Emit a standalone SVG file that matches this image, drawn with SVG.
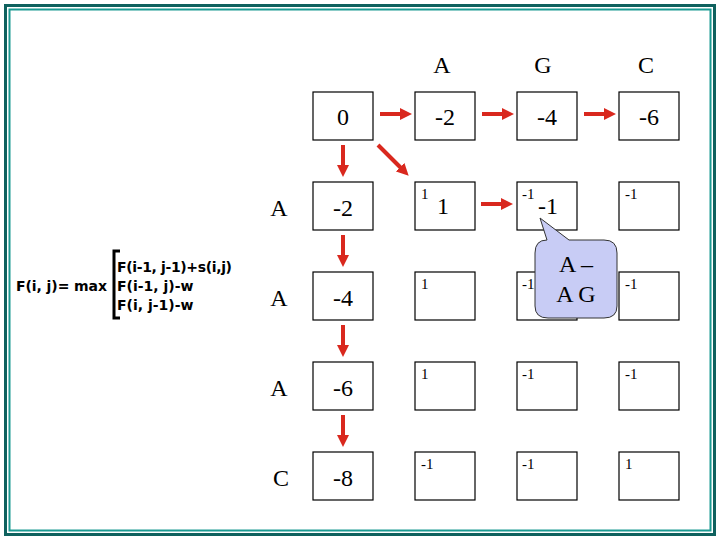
<svg xmlns="http://www.w3.org/2000/svg" width="720" height="540" viewBox="0 0 720 540">
<style>
.box{fill:#fff;stroke:#000;stroke-width:1.2}
.big{font-family:"Liberation Serif",serif;font-size:24px;text-anchor:middle}
.sm{font-family:"Liberation Serif",serif;font-size:15px}
.f{font-family:"DejaVu Sans",sans-serif;font-size:14px;font-weight:bold}
.arr{stroke:#d9281e;stroke-width:4;marker-end:url(#ah)}
</style>
<defs><marker id="ah" markerWidth="3" markerHeight="3" refX="1" refY="1.5" orient="auto"><path d="M0,0L3,1.5L0,3z" fill="#d9281e"/></marker></defs>
<rect width="720" height="540" fill="#fff"/>
<rect x="5.5" y="5.5" width="709" height="529" fill="none" stroke="#0e615e" stroke-width="3"/>
<rect x="9.5" y="9.5" width="701" height="521" fill="none" stroke="#1b9a92" stroke-width="2"/>
<g id="headers" class="big"><text x="442" y="73">A</text><text x="543" y="73">G</text><text x="646" y="73">C</text>
<text x="279" y="216">A</text><text x="279" y="306">A</text><text x="279" y="396">A</text><text x="281" y="486">C</text></g>
<g id="formula" class="f"><text x="16" y="291" textLength="91">F(i, j)=  max</text><text x="117" y="272" textLength="115">F(i-1, j-1)+s(i,j)</text><text x="117" y="291">F(i-1, j)-w</text><text x="117" y="310">F(i, j-1)-w</text>
<path d="M120,251H114V318H120" fill="none" stroke="#000" stroke-width="3"/></g>
<g id="col0"><rect class="box" x="313" y="92" width="60" height="48"/><text class="big" x="343" y="125">0</text>
<rect class="box" x="313" y="182" width="60" height="48"/><text class="big" x="343" y="216">-2</text>
<rect class="box" x="313" y="272" width="60" height="48"/><text class="big" x="343" y="306">-4</text>
<rect class="box" x="313" y="362" width="60" height="48"/><text class="big" x="343" y="396">-6</text>
<rect class="box" x="313" y="452" width="60" height="48"/><text class="big" x="343" y="486">-8</text></g>
<g id="row0"><rect class="box" x="415" y="92" width="60" height="48"/><text class="big" x="445" y="125">-2</text>
<rect class="box" x="517" y="92" width="60" height="48"/><text class="big" x="547" y="125">-4</text>
<rect class="box" x="619" y="92" width="60" height="48"/><text class="big" x="649" y="125">-6</text></g>
<g id="cells" class="sm">
<rect class="box" x="415" y="182" width="60" height="48"/><text x="421" y="199">1</text><text class="big" x="443" y="214">1</text>
<rect class="box" x="517" y="182" width="60" height="48"/><text x="522" y="199">-1</text><text class="big" x="548" y="214">-1</text>
<rect class="box" x="619" y="182" width="60" height="48"/><text x="625" y="199">-1</text>
<rect class="box" x="415" y="272" width="60" height="48"/><text x="421" y="289">1</text>
<rect class="box" x="517" y="272" width="60" height="48"/><text x="522" y="289">-1</text>
<rect class="box" x="619" y="272" width="60" height="48"/><text x="625" y="289">-1</text>
<rect class="box" x="415" y="362" width="60" height="48"/><text x="421" y="379">1</text>
<rect class="box" x="517" y="362" width="60" height="48"/><text x="522" y="379">-1</text>
<rect class="box" x="619" y="362" width="60" height="48"/><text x="625" y="379">-1</text>
<rect class="box" x="415" y="452" width="60" height="48"/><text x="421" y="469">-1</text>
<rect class="box" x="517" y="452" width="60" height="48"/><text x="522" y="469">-1</text>
<rect class="box" x="619" y="452" width="60" height="48"/><text x="625" y="469">1</text></g>
<g id="connectors">
<line class="arr" x1="380" y1="114" x2="404" y2="114"/><line class="arr" x1="482" y1="114" x2="506" y2="114"/><line class="arr" x1="584" y1="114" x2="608" y2="114"/>
<line class="arr" x1="481" y1="204" x2="505" y2="204"/>
<line class="arr" x1="378" y1="145" x2="403" y2="170"/>
<line class="arr" x1="343" y1="145" x2="343" y2="169"/><line class="arr" x1="343" y1="235" x2="343" y2="259"/><line class="arr" x1="343" y1="325" x2="343" y2="349"/><line class="arr" x1="343" y1="415" x2="343" y2="439"/>
</g>
<g id="callout"><path d="M547,240L540,218L569,240H604Q617,240 617,253V306Q617,318 604,318H548Q535,318 535,306V253Q535,240 547,240Z" fill="#c8ccf5" stroke="#333" stroke-width="1"/>
<text class="big" x="576" y="272">A –</text><text class="big" x="576" y="302">A G</text></g>
</svg>
